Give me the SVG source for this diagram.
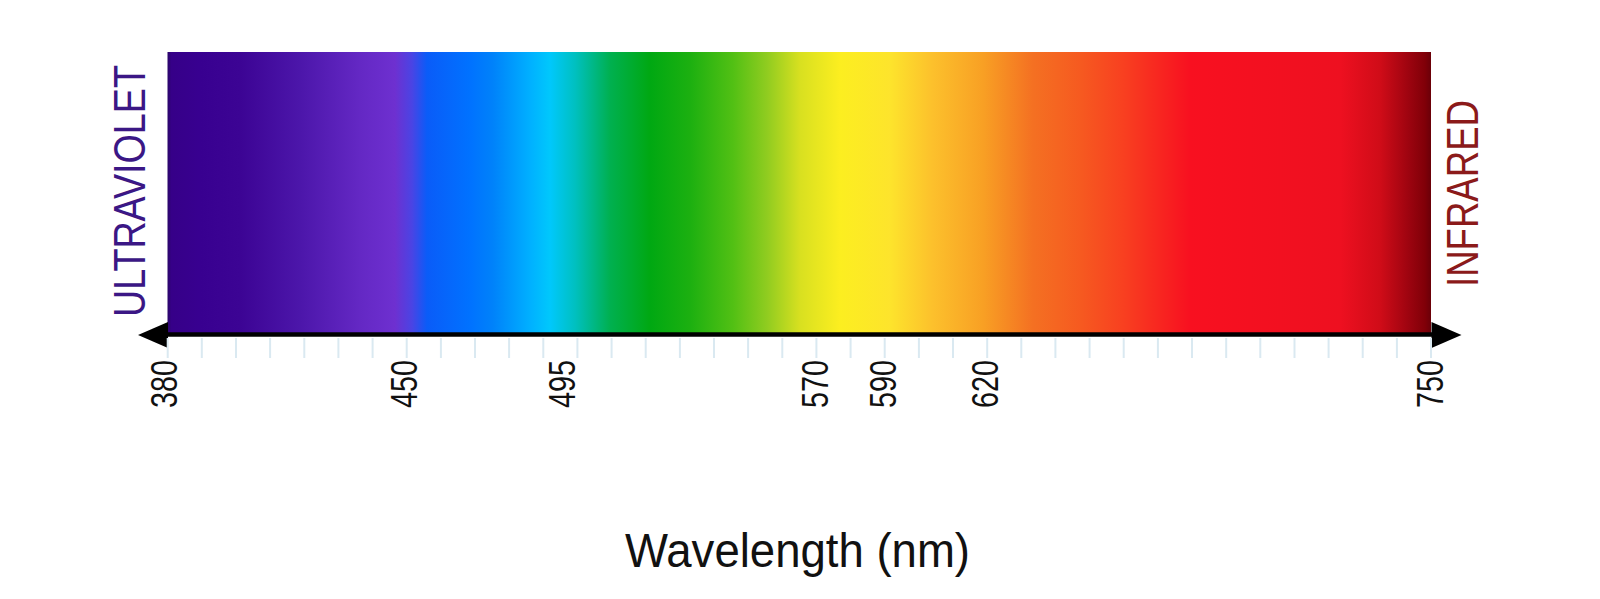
<svg xmlns="http://www.w3.org/2000/svg" width="1600" height="599" viewBox="0 0 1600 599">
  <defs>
    <linearGradient id="spectrum" gradientUnits="userSpaceOnUse" x1="167.5" y1="0" x2="1431" y2="0">
      <stop offset="0" stop-color="#2a0668"/>
      <stop offset="0.003" stop-color="#360088"/>
      <stop offset="0.0257" stop-color="#380090"/>
      <stop offset="0.0574" stop-color="#3c0494"/>
      <stop offset="0.1049" stop-color="#4c16aa"/>
      <stop offset="0.1524" stop-color="#6428c4"/>
      <stop offset="0.180" stop-color="#6e30d0"/>
      <stop offset="0.1935" stop-color="#4a44e4"/>
      <stop offset="0.2054" stop-color="#0a5cf8"/>
      <stop offset="0.2394" stop-color="#0072ff"/>
      <stop offset="0.2576" stop-color="#0082fa"/>
      <stop offset="0.2869" stop-color="#00b0ff"/>
      <stop offset="0.3027" stop-color="#00c8fc"/>
      <stop offset="0.3225" stop-color="#00c0c0"/>
      <stop offset="0.3502" stop-color="#00b050"/>
      <stop offset="0.3819" stop-color="#00a812"/>
      <stop offset="0.4135" stop-color="#1cb010"/>
      <stop offset="0.4476" stop-color="#52c014"/>
      <stop offset="0.4745" stop-color="#90cc20"/>
      <stop offset="0.5006" stop-color="#d8e020"/>
      <stop offset="0.5322" stop-color="#fcee20"/>
      <stop offset="0.5718" stop-color="#fde42c"/>
      <stop offset="0.6058" stop-color="#fcc02c"/>
      <stop offset="0.6454" stop-color="#f8a024"/>
      <stop offset="0.6850" stop-color="#f47022"/>
      <stop offset="0.7222" stop-color="#f65a20"/>
      <stop offset="0.7562" stop-color="#f84020"/>
      <stop offset="0.8093" stop-color="#f81020"/>
      <stop offset="0.9280" stop-color="#ee1020"/>
      <stop offset="0.9596" stop-color="#d00c18"/>
      <stop offset="0.9810" stop-color="#a00410"/>
      <stop offset="0.9953" stop-color="#800008"/>
      <stop offset="1" stop-color="#6a0008"/>
    </linearGradient>
  </defs>
  <style>
    .tick { stroke: #dae9f1; stroke-width: 2; }
    .num { font-family: "Liberation Sans", Arial, sans-serif; font-size: 36px; fill: #111; text-anchor: end; }
    .side { font-family: "Liberation Sans", Arial, sans-serif; font-size: 45px; }
    .title { font-family: "Liberation Sans", Arial, sans-serif; font-size: 49px; fill: #111; text-anchor: middle; }
  </style>
  <rect width="1600" height="599" fill="#ffffff"/>

  <g id="spectrum-bar">
    <rect x="167.5" y="52" width="1263.5" height="281" fill="url(#spectrum)"/>
  </g>

  <g id="connectors">
    <line x1="166" y1="334.5" x2="1433" y2="334.5" stroke="#000" stroke-width="4.5"/>
    <polygon points="138,335 168,322 168,348" fill="#000"/>
    <polygon points="1461.5,335 1431.5,322 1431.5,348" fill="#000"/>
  </g>

  <g id="ticks">
    <line class="tick" x1="167.7" y1="338" x2="167.7" y2="358"/>
    <line class="tick" x1="201.8" y1="338" x2="201.8" y2="358"/>
    <line class="tick" x1="236.0" y1="338" x2="236.0" y2="358"/>
    <line class="tick" x1="270.1" y1="338" x2="270.1" y2="358"/>
    <line class="tick" x1="304.3" y1="338" x2="304.3" y2="358"/>
    <line class="tick" x1="338.4" y1="338" x2="338.4" y2="358"/>
    <line class="tick" x1="372.6" y1="338" x2="372.6" y2="358"/>
    <line class="tick" x1="406.7" y1="338" x2="406.7" y2="358"/>
    <line class="tick" x1="440.9" y1="338" x2="440.9" y2="358"/>
    <line class="tick" x1="475.0" y1="338" x2="475.0" y2="358"/>
    <line class="tick" x1="509.1" y1="338" x2="509.1" y2="358"/>
    <line class="tick" x1="543.3" y1="338" x2="543.3" y2="358"/>
    <line class="tick" x1="577.4" y1="338" x2="577.4" y2="358"/>
    <line class="tick" x1="611.6" y1="338" x2="611.6" y2="358"/>
    <line class="tick" x1="645.7" y1="338" x2="645.7" y2="358"/>
    <line class="tick" x1="679.9" y1="338" x2="679.9" y2="358"/>
    <line class="tick" x1="714.0" y1="338" x2="714.0" y2="358"/>
    <line class="tick" x1="748.1" y1="338" x2="748.1" y2="358"/>
    <line class="tick" x1="782.3" y1="338" x2="782.3" y2="358"/>
    <line class="tick" x1="816.4" y1="338" x2="816.4" y2="358"/>
    <line class="tick" x1="850.6" y1="338" x2="850.6" y2="358"/>
    <line class="tick" x1="884.7" y1="338" x2="884.7" y2="358"/>
    <line class="tick" x1="918.9" y1="338" x2="918.9" y2="358"/>
    <line class="tick" x1="953.0" y1="338" x2="953.0" y2="358"/>
    <line class="tick" x1="987.2" y1="338" x2="987.2" y2="358"/>
    <line class="tick" x1="1021.3" y1="338" x2="1021.3" y2="358"/>
    <line class="tick" x1="1055.4" y1="338" x2="1055.4" y2="358"/>
    <line class="tick" x1="1089.6" y1="338" x2="1089.6" y2="358"/>
    <line class="tick" x1="1123.7" y1="338" x2="1123.7" y2="358"/>
    <line class="tick" x1="1157.9" y1="338" x2="1157.9" y2="358"/>
    <line class="tick" x1="1192.0" y1="338" x2="1192.0" y2="358"/>
    <line class="tick" x1="1226.2" y1="338" x2="1226.2" y2="358"/>
    <line class="tick" x1="1260.3" y1="338" x2="1260.3" y2="358"/>
    <line class="tick" x1="1294.5" y1="338" x2="1294.5" y2="358"/>
    <line class="tick" x1="1328.6" y1="338" x2="1328.6" y2="358"/>
    <line class="tick" x1="1362.7" y1="338" x2="1362.7" y2="358"/>
    <line class="tick" x1="1396.9" y1="338" x2="1396.9" y2="358"/>
    <line class="tick" x1="1431.0" y1="338" x2="1431.0" y2="358"/>
  </g>

  <g id="labels">
    <text class="num" transform="translate(177,360) rotate(-90)" textLength="48" lengthAdjust="spacingAndGlyphs">380</text>
    <text class="num" transform="translate(417,360) rotate(-90)" textLength="48" lengthAdjust="spacingAndGlyphs">450</text>
    <text class="num" transform="translate(575,360) rotate(-90)" textLength="48" lengthAdjust="spacingAndGlyphs">495</text>
    <text class="num" transform="translate(828,360) rotate(-90)" textLength="48" lengthAdjust="spacingAndGlyphs">570</text>
    <text class="num" transform="translate(896,360) rotate(-90)" textLength="48" lengthAdjust="spacingAndGlyphs">590</text>
    <text class="num" transform="translate(998,360) rotate(-90)" textLength="48" lengthAdjust="spacingAndGlyphs">620</text>
    <text class="num" transform="translate(1443,360) rotate(-90)" textLength="48" lengthAdjust="spacingAndGlyphs">750</text>
  </g>

  <g id="ultraviolet">
    <text class="side" fill="#3b1785" transform="translate(145,317) rotate(-90)" textLength="252" lengthAdjust="spacingAndGlyphs">ULTRAVIOLET</text>
  </g>

  <g id="infrared">
    <text class="side" fill="#8b1a1a" transform="translate(1478,287) rotate(-90)" textLength="187" lengthAdjust="spacingAndGlyphs">INFRARED</text>
  </g>

  <g id="axis-title">
    <text class="title" x="797.5" y="567" textLength="345" lengthAdjust="spacingAndGlyphs">Wavelength (nm)</text>
  </g>
</svg>
